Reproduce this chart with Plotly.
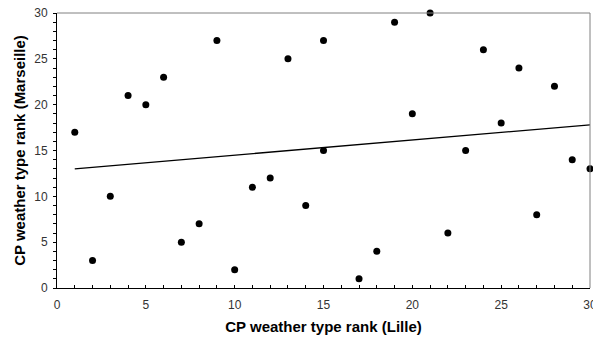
import plotly.graph_objects as go

# Weather type ranks: Lille (x) versus Marseille (y)
lille_rank = [1, 2, 3, 4, 5, 6, 7, 8, 9, 10, 11, 12, 13, 14, 15,
              15, 17, 18, 19, 20, 21, 22, 23, 24, 25, 26, 27, 28, 29, 30]
marseille_rank = [17, 3, 10, 21, 20, 23, 5, 7, 27, 2, 11, 12, 25, 9, 27,
                  15, 1, 4, 29, 19, 30, 6, 15, 26, 18, 24, 8, 22, 14, 13]

# Linear trend line end points
trend_x = [1, 30]
trend_y = [13.0, 17.8]

x_ticks = [0, 5, 10, 15, 20, 25, 30]
y_ticks = [0, 5, 10, 15, 20, 25, 30]

font_family = "Liberation Sans, Arial, sans-serif"

fig = go.Figure()
fig.add_trace(go.Scatter(
    x=trend_x, y=trend_y, mode="lines",
    line=dict(color="black", width=1.3),
    hoverinfo="skip", showlegend=False,
))
fig.add_trace(go.Scatter(
    x=lille_rank, y=marseille_rank, mode="markers",
    marker=dict(color="black", size=7),
    cliponaxis=False, showlegend=False,
))

fig.update_layout(
    width=593, height=341,
    margin=dict(l=57, r=3, t=13, b=53),
    paper_bgcolor="white", plot_bgcolor="white",
    font=dict(family=font_family, color="#333", size=12),
    xaxis=dict(
        range=[0, 30], tickvals=x_ticks, ticktext=[str(v) for v in x_ticks],
        automargin=False,
        showgrid=False, zeroline=False,
        showline=True, linecolor="black", linewidth=1,
        ticks="inside", ticklen=3, tickcolor="black", tickwidth=1,
        minor=dict(dtick=1, ticks="inside", ticklen=3, tickcolor="black"),
        ticklabelstandoff=6, ticklabeloverflow="allow",
        tickfont=dict(size=12, color="#333"),
        title=dict(text="<b>CP weather type rank (Lille)</b>",
                   font=dict(size=15, color="black"), standoff=10),
    ),
    yaxis=dict(
        range=[0, 30], tickvals=y_ticks, ticktext=[str(v) for v in y_ticks],
        automargin=False,
        showgrid=False, zeroline=False,
        showline=True, linecolor="black", linewidth=1,
        ticks="outside", ticklen=3, tickcolor="black", tickwidth=1,
        minor=dict(dtick=1, ticks="outside", ticklen=3, tickcolor="black"),
        ticklabelstandoff=3, ticklabeloverflow="allow",
        tickfont=dict(size=12, color="#333"),
        title=dict(text="<b>CP weather type rank (Marseille)</b>",
                   font=dict(size=15, color="black"), standoff=4),
    ),
    shapes=[
        dict(type="line", xref="paper", yref="paper", x0=0, x1=1, y0=1, y1=1,
             line=dict(color="#808080", width=1)),
        dict(type="line", xref="paper", yref="paper", x0=1, x1=1, y0=0, y1=1,
             line=dict(color="#808080", width=1)),
    ],
)

fig.write_html("out.html")
